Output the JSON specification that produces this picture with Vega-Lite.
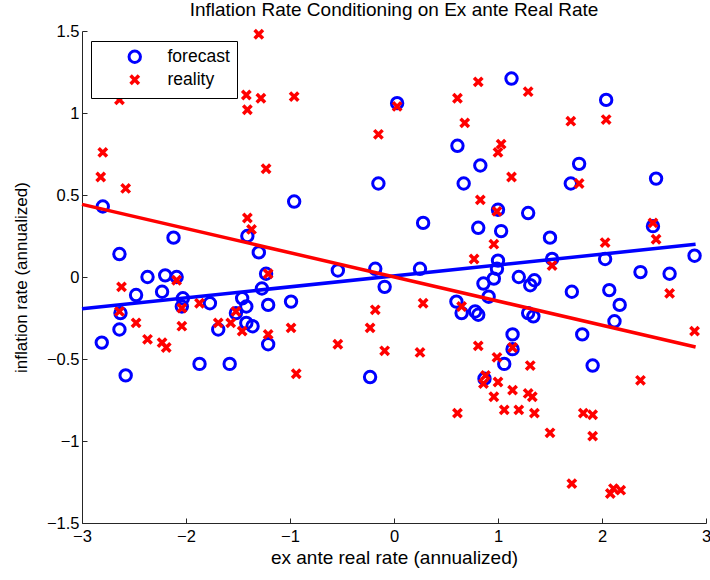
{
  "$schema": "https://vega.github.io/schema/vega-lite/v6.json",
  "width": 624,
  "height": 492,
  "autosize": {"type": "none"},
  "padding": {"left": 82, "top": 31, "right": 4, "bottom": 57},
  "background": "white",
  "title": {"text": "Inflation Rate Conditioning on Ex ante Real Rate", "fontSize": 19, "font": "Liberation Sans", "fontWeight": "normal", "color": "black", "offset": 3},
  "config": {
    "view": {"stroke": null},
    "axis": {"grid": false, "domainColor": "#262626", "tickColor": "#262626", "labelColor": "black", "labelFont": "Liberation Sans", "labelFontSize": 16.5, "titleFont": "Liberation Sans", "titleFontWeight": "normal", "titleColor": "black", "tickSize": -5},
    "legend": {"symbolStrokeWidth": 1.2}
  },
  "datasets": {
    "points": [
      {"series": "forecast", "x": 0.03, "y": 1.06},
      {"series": "forecast", "x": -0.15, "y": 0.57},
      {"series": "forecast", "x": 0.61, "y": 0.80},
      {"series": "forecast", "x": 0.83, "y": 0.68},
      {"series": "forecast", "x": 0.67, "y": 0.57},
      {"series": "forecast", "x": 1.13, "y": 1.21},
      {"series": "forecast", "x": 2.04, "y": 1.08},
      {"series": "forecast", "x": 1.78, "y": 0.69},
      {"series": "forecast", "x": 1.70, "y": 0.57},
      {"series": "forecast", "x": 2.52, "y": 0.60},
      {"series": "forecast", "x": -2.80, "y": 0.43},
      {"series": "forecast", "x": -2.12, "y": 0.24},
      {"series": "forecast", "x": -1.41, "y": 0.25},
      {"series": "forecast", "x": -2.64, "y": 0.14},
      {"series": "forecast", "x": -1.30, "y": 0.15},
      {"series": "forecast", "x": -2.37, "y": 0.00},
      {"series": "forecast", "x": -2.20, "y": 0.01},
      {"series": "forecast", "x": -2.09, "y": 0.00},
      {"series": "forecast", "x": -1.23, "y": 0.02},
      {"series": "forecast", "x": -2.48, "y": -0.11},
      {"series": "forecast", "x": -2.23, "y": -0.09},
      {"series": "forecast", "x": -1.27, "y": -0.07},
      {"series": "forecast", "x": -2.03, "y": -0.13},
      {"series": "forecast", "x": -2.04, "y": -0.18},
      {"series": "forecast", "x": -1.77, "y": -0.16},
      {"series": "forecast", "x": -1.46, "y": -0.13},
      {"series": "forecast", "x": -1.42, "y": -0.18},
      {"series": "forecast", "x": -1.21, "y": -0.17},
      {"series": "forecast", "x": -2.63, "y": -0.22},
      {"series": "forecast", "x": -2.64, "y": -0.32},
      {"series": "forecast", "x": -2.81, "y": -0.40},
      {"series": "forecast", "x": -1.69, "y": -0.32},
      {"series": "forecast", "x": -1.52, "y": -0.22},
      {"series": "forecast", "x": -1.42, "y": -0.28},
      {"series": "forecast", "x": -1.36, "y": -0.30},
      {"series": "forecast", "x": -1.21, "y": -0.41},
      {"series": "forecast", "x": -1.87, "y": -0.53},
      {"series": "forecast", "x": -1.58, "y": -0.53},
      {"series": "forecast", "x": -2.58, "y": -0.60},
      {"series": "forecast", "x": -0.96, "y": 0.46},
      {"series": "forecast", "x": 0.28, "y": 0.33},
      {"series": "forecast", "x": -0.99, "y": -0.15},
      {"series": "forecast", "x": -0.54, "y": 0.04},
      {"series": "forecast", "x": -0.18, "y": 0.05},
      {"series": "forecast", "x": -0.09, "y": -0.06},
      {"series": "forecast", "x": 0.25, "y": 0.05},
      {"series": "forecast", "x": 0.60, "y": -0.15},
      {"series": "forecast", "x": 0.65, "y": -0.22},
      {"series": "forecast", "x": -0.23, "y": -0.61},
      {"series": "forecast", "x": 1.00, "y": 0.41},
      {"series": "forecast", "x": 1.29, "y": 0.39},
      {"series": "forecast", "x": 0.81, "y": 0.30},
      {"series": "forecast", "x": 1.03, "y": 0.28},
      {"series": "forecast", "x": 1.50, "y": 0.24},
      {"series": "forecast", "x": 2.49, "y": 0.31},
      {"series": "forecast", "x": 2.03, "y": 0.11},
      {"series": "forecast", "x": 2.89, "y": 0.13},
      {"series": "forecast", "x": 1.00, "y": 0.10},
      {"series": "forecast", "x": 0.99, "y": 0.05},
      {"series": "forecast", "x": 1.52, "y": 0.11},
      {"series": "forecast", "x": 0.96, "y": -0.01},
      {"series": "forecast", "x": 0.86, "y": -0.04},
      {"series": "forecast", "x": 1.20, "y": 0.00},
      {"series": "forecast", "x": 1.31, "y": -0.05},
      {"series": "forecast", "x": 1.35, "y": -0.02},
      {"series": "forecast", "x": 2.37, "y": 0.03},
      {"series": "forecast", "x": 2.65, "y": 0.02},
      {"series": "forecast", "x": 0.91, "y": -0.12},
      {"series": "forecast", "x": 1.71, "y": -0.09},
      {"series": "forecast", "x": 2.07, "y": -0.08},
      {"series": "forecast", "x": 2.17, "y": -0.17},
      {"series": "forecast", "x": 0.78, "y": -0.21},
      {"series": "forecast", "x": 0.81, "y": -0.23},
      {"series": "forecast", "x": 1.29, "y": -0.22},
      {"series": "forecast", "x": 1.34, "y": -0.24},
      {"series": "forecast", "x": 2.12, "y": -0.27},
      {"series": "forecast", "x": 1.81, "y": -0.35},
      {"series": "forecast", "x": 1.14, "y": -0.35},
      {"series": "forecast", "x": 1.14, "y": -0.44},
      {"series": "forecast", "x": 1.06, "y": -0.53},
      {"series": "forecast", "x": 1.91, "y": -0.54},
      {"series": "forecast", "x": 0.87, "y": -0.62},
      {"series": "reality", "x": -1.30, "y": 1.48},
      {"series": "reality", "x": -2.64, "y": 1.08},
      {"series": "reality", "x": -1.42, "y": 1.11},
      {"series": "reality", "x": -1.28, "y": 1.09},
      {"series": "reality", "x": -1.41, "y": 1.02},
      {"series": "reality", "x": -2.80, "y": 0.76},
      {"series": "reality", "x": -2.82, "y": 0.61},
      {"series": "reality", "x": -2.58, "y": 0.54},
      {"series": "reality", "x": -1.23, "y": 0.66},
      {"series": "reality", "x": -0.96, "y": 1.10},
      {"series": "reality", "x": 0.03, "y": 1.04},
      {"series": "reality", "x": -0.15, "y": 0.87},
      {"series": "reality", "x": 0.81, "y": 1.19},
      {"series": "reality", "x": 0.61, "y": 1.09},
      {"series": "reality", "x": 0.68, "y": 0.94},
      {"series": "reality", "x": 1.29, "y": 1.13},
      {"series": "reality", "x": 1.70, "y": 0.95},
      {"series": "reality", "x": 2.04, "y": 0.96},
      {"series": "reality", "x": 1.03, "y": 0.81},
      {"series": "reality", "x": 1.00, "y": 0.76},
      {"series": "reality", "x": 1.13, "y": 0.61},
      {"series": "reality", "x": 1.78, "y": 0.57},
      {"series": "reality", "x": -1.41, "y": 0.36},
      {"series": "reality", "x": -1.37, "y": 0.29},
      {"series": "reality", "x": -2.09, "y": -0.02},
      {"series": "reality", "x": -1.21, "y": 0.02},
      {"series": "reality", "x": -2.62, "y": -0.06},
      {"series": "reality", "x": -2.04, "y": -0.19},
      {"series": "reality", "x": -1.87, "y": -0.16},
      {"series": "reality", "x": -2.64, "y": -0.21},
      {"series": "reality", "x": -2.48, "y": -0.28},
      {"series": "reality", "x": -2.37, "y": -0.38},
      {"series": "reality", "x": -2.23, "y": -0.40},
      {"series": "reality", "x": -2.19, "y": -0.43},
      {"series": "reality", "x": -2.04, "y": -0.30},
      {"series": "reality", "x": -1.69, "y": -0.28},
      {"series": "reality", "x": -1.57, "y": -0.28},
      {"series": "reality", "x": -1.52, "y": -0.21},
      {"series": "reality", "x": -1.46, "y": -0.33},
      {"series": "reality", "x": -1.21, "y": -0.35},
      {"series": "reality", "x": -0.99, "y": -0.31},
      {"series": "reality", "x": -0.18, "y": -0.20},
      {"series": "reality", "x": -0.23, "y": -0.31},
      {"series": "reality", "x": 0.28, "y": -0.16},
      {"series": "reality", "x": -0.54, "y": -0.41},
      {"series": "reality", "x": -0.09, "y": -0.45},
      {"series": "reality", "x": 0.25, "y": -0.46},
      {"series": "reality", "x": -0.94, "y": -0.59},
      {"series": "reality", "x": 0.65, "y": -0.18},
      {"series": "reality", "x": 0.61, "y": -0.83},
      {"series": "reality", "x": 0.83, "y": 0.47},
      {"series": "reality", "x": 0.99, "y": 0.40},
      {"series": "reality", "x": 0.96, "y": 0.20},
      {"series": "reality", "x": 2.49, "y": 0.33},
      {"series": "reality", "x": 2.52, "y": 0.23},
      {"series": "reality", "x": 2.03, "y": 0.21},
      {"series": "reality", "x": 0.77, "y": 0.11},
      {"series": "reality", "x": 1.52, "y": 0.07},
      {"series": "reality", "x": 2.65, "y": -0.10},
      {"series": "reality", "x": 2.89, "y": -0.33},
      {"series": "reality", "x": 1.14, "y": -0.43},
      {"series": "reality", "x": 0.81, "y": -0.42},
      {"series": "reality", "x": 0.99, "y": -0.49},
      {"series": "reality", "x": 1.31, "y": -0.54},
      {"series": "reality", "x": 0.88, "y": -0.60},
      {"series": "reality", "x": 0.86, "y": -0.65},
      {"series": "reality", "x": 1.00, "y": -0.64},
      {"series": "reality", "x": 0.96, "y": -0.73},
      {"series": "reality", "x": 1.14, "y": -0.69},
      {"series": "reality", "x": 1.29, "y": -0.71},
      {"series": "reality", "x": 1.33, "y": -0.73},
      {"series": "reality", "x": 1.06, "y": -0.81},
      {"series": "reality", "x": 1.20, "y": -0.81},
      {"series": "reality", "x": 1.35, "y": -0.83},
      {"series": "reality", "x": 2.37, "y": -0.63},
      {"series": "reality", "x": 1.82, "y": -0.83},
      {"series": "reality", "x": 1.91, "y": -0.84},
      {"series": "reality", "x": 1.50, "y": -0.95},
      {"series": "reality", "x": 1.91, "y": -0.97},
      {"series": "reality", "x": 1.71, "y": -1.26},
      {"series": "reality", "x": 2.08, "y": -1.32},
      {"series": "reality", "x": 2.11, "y": -1.29},
      {"series": "reality", "x": 2.18, "y": -1.30}
    ],
    "lines": [
      {"series": "forecast", "x": -3.0, "y": -0.193},
      {"series": "forecast", "x": 2.9, "y": 0.199},
      {"series": "reality", "x": -3.0, "y": 0.443},
      {"series": "reality", "x": 2.9, "y": -0.427}
    ]
  },
  "encoding": {
    "x": {"field": "x", "type": "quantitative", "scale": {"domain": [-3, 3], "nice": false, "zero": false},
          "axis": {"title": "ex ante real rate (annualized)", "titleFontSize": 19, "values": [-3, -2, -1, 0, 1, 2, 3], "labelFlush": false, "labelPadding": 10, "titlePadding": 4}},
    "y": {"field": "y", "type": "quantitative", "scale": {"domain": [-1.5, 1.5], "nice": false, "zero": false},
          "axis": {"title": "inflation rate (annualized)", "titleFontSize": 17, "values": [-1.5, -1, -0.5, 0, 0.5, 1, 1.5], "format": "~g", "labelFlush": false, "labelPadding": 8, "titlePadding": 16}}
  },
  "layer": [
    {
      "data": {"name": "points"},
      "transform": [{"calculate": "datum.series", "as": "kind"}],
      "mark": {"type": "point", "filled": false, "opacity": 1},
      "encoding": {
        "color": {"field": "series", "type": "nominal", "scale": {"domain": ["forecast", "reality"], "range": ["#0000ff", "#ff0000"]},
                  "legend": {"title": null, "orient": "none", "legendX": 9, "legendY": 10, "strokeColor": "black", "fillColor": "white", "padding": 7, "labelFont": "Liberation Sans", "labelFontSize": 17.5, "labelColor": "black", "symbolOffset": 28, "labelOffset": 24, "rowPadding": -1, "symbolStrokeWidth": 1.2, "symbolSize": 100, "cornerRadius": 0,
                             "encode": {"symbols": {"update": {"strokeWidth": {"value": 1.2}}}}}},
        "shape": {"field": "series", "type": "nominal", "scale": {"domain": ["forecast", "reality"], "range": ["circle", "M-1,-1L1,1M1,-1L-1,1"]},
                  "legend": {"title": null, "orient": "none", "legendX": 9, "legendY": 10, "strokeColor": "black", "fillColor": "white", "padding": 7, "labelFont": "Liberation Sans", "labelFontSize": 17.5, "labelColor": "black", "symbolOffset": 28, "labelOffset": 24, "rowPadding": -1, "symbolStrokeWidth": 1.2, "symbolSize": 100, "cornerRadius": 0,
                             "encode": {"symbols": {"update": {"strokeWidth": {"value": 1.2}}}}}},
        "size": {"field": "kind", "type": "nominal", "scale": {"domain": ["forecast", "reality"], "range": [130, 70]}, "legend": null},
        "strokeWidth": {"field": "kind", "type": "nominal", "scale": {"domain": ["forecast", "reality"], "range": [3, 3.5]}, "legend": null}
      }
    },
    {
      "data": {"name": "lines"},
      "transform": [{"filter": "datum.series === 'forecast'"}],
      "mark": {"type": "line", "strokeWidth": 3.5, "color": "#0000ff"},
      "encoding": {}
    },
    {
      "data": {"name": "lines"},
      "transform": [{"filter": "datum.series === 'reality'"}],
      "mark": {"type": "line", "strokeWidth": 3.5, "color": "#ff0000"},
      "encoding": {}
    }
  ]
}
